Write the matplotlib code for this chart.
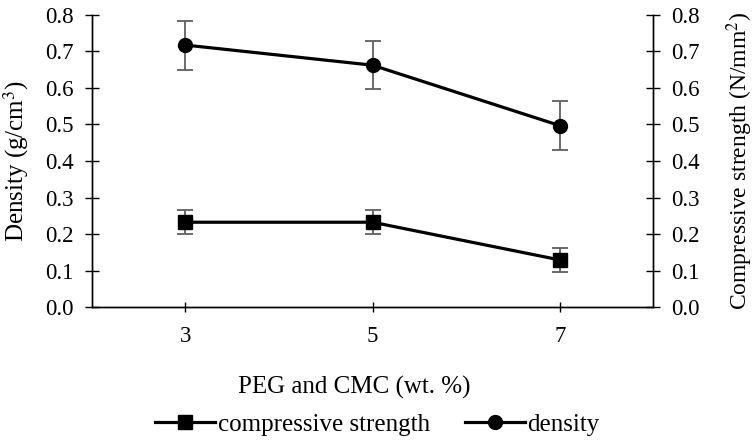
import numpy as np
from matplotlib import pyplot as plt

plt.rcParams['font.family'] = ['Liberation Serif', 'DejaVu Serif']
plt.rcParams['mathtext.fontset'] = 'stix'

# data
peg_cmc = ['3', '5', '7']
density = [0.717, 0.662, 0.497]
density_err = [0.067, 0.066, 0.067]
strength = [0.233, 0.233, 0.130]
strength_err = [0.033, 0.033, 0.033]

x = np.arange(len(peg_cmc))
err_color = '#5f5f5f'

fig = plt.figure(figsize=(7.55, 4.45), dpi=100)
ax = fig.add_axes([0.1215, 0.309, 0.7438, 0.658])
ax2 = ax.twinx()

# error bars first, then lines on top
ax.errorbar(x, density, yerr=density_err, fmt='none', ecolor=err_color,
            elinewidth=1.3, capsize=5.5, capthick=1.3, zorder=2)
ax2.errorbar(x, strength, yerr=strength_err, fmt='none', ecolor=err_color,
             elinewidth=1.3, capsize=5.5, capthick=1.3, zorder=2)
l_den, = ax.plot(x, density, color='black', lw=2.3, marker='o', ms=10,
                 label='density', zorder=3)
l_str, = ax2.plot(x, strength, color='black', lw=2.3, marker='s', ms=10,
                  label='compressive strength', zorder=3)

ax.set_xlim(-0.5, len(peg_cmc) - 0.5)
ax.set_xticks(x)
ax.set_xticklabels(peg_cmc)
yt = np.round(np.arange(0, 0.81, 0.1), 1)
for a in (ax, ax2):
    a.set_ylim(0, 0.8)
    a.set_yticks(yt)
    a.set_yticklabels(['%.1f' % v for v in yt])
    a.spines['top'].set_visible(False)
    for s in ('left', 'right', 'bottom'):
        a.spines[s].set_linewidth(1.0)
    a.tick_params(axis='y', direction='inout', length=10, width=1.0,
                  pad=8, labelsize=16.5)
ax.tick_params(axis='x', direction='inout', length=7, width=1.0,
               pad=10, labelsize=16.5)

ax.set_ylabel('Density (g/cm$^3$)', fontsize=18)
ax.yaxis.set_label_coords(-0.108, 0.5)
ax2.set_ylabel('Compressive strength (N/mm$^2$)', fontsize=17)
ax2.yaxis.set_label_coords(1.126, 0.5)
ax.set_xlabel('PEG and CMC (wt. %)', fontsize=18)
ax.xaxis.set_label_coords(0.468, -0.235)

fig.legend(handles=[l_str, l_den], loc='lower center',
           bbox_to_anchor=(0.5, -0.03), ncol=2, frameon=False,
           fontsize=18, handlelength=2.4, handletextpad=0.1,
           columnspacing=1.4)

fig.savefig('out.png', dpi=100)
